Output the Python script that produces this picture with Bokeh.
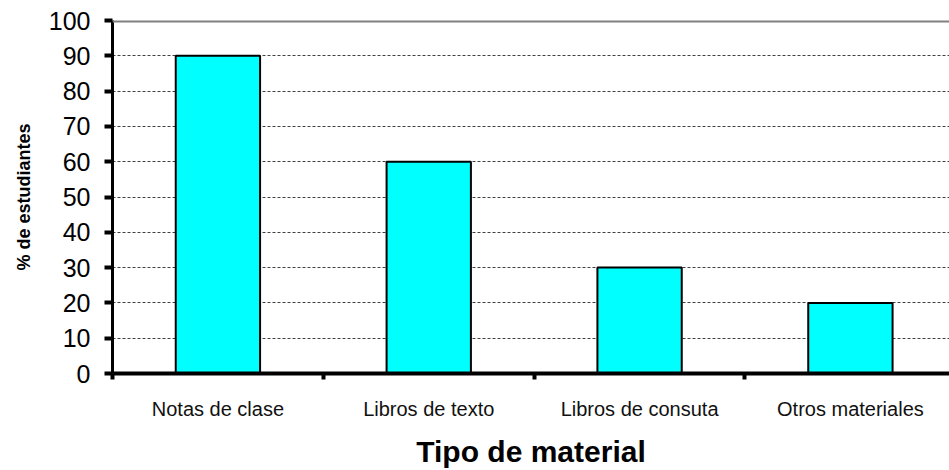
from bokeh.plotting import figure
from bokeh.models import ColumnDataSource, Range1d, FixedTicker, Span
from bokeh.embed import file_html
from bokeh.resources import INLINE

categories = ["Notas de clase", "Libros de texto", "Libros de consuta", "Otros materiales"]
values = [90, 60, 30, 20]
y_ticks = [0, 10, 20, 30, 40, 50, 60, 70, 80, 90, 100]

centers = [i + 0.5 for i in range(len(categories))]
src = ColumnDataSource(dict(x=centers, top=values))

p = figure(width=949, height=470, output_backend="svg", toolbar_location=None,
           x_range=Range1d(0, 3.97), y_range=Range1d(0, 100),
           min_border_left=112, min_border_right=0, min_border_top=20, min_border_bottom=94)

p.vbar(x="x", top="top", bottom=0, width=0.4, source=src,
       fill_color="#00FFFF", line_color="black", line_width=2)

p.outline_line_color = None
p.background_fill_color = "white"
p.border_fill_color = "white"

# top border of plot area
p.add_layout(Span(location=100, dimension="width", line_color="#808080", line_width=4))

# grid
p.xgrid.grid_line_color = None
p.ygrid.ticker = FixedTicker(ticks=y_ticks[1:-1])
p.ygrid.grid_line_color = "#404040"
p.ygrid.grid_line_dash = "3 2"
p.ygrid.grid_line_width = 1

# y axis
p.yaxis.ticker = FixedTicker(ticks=y_ticks)
p.yaxis.axis_line_color = "black"
p.yaxis.axis_line_width = 3
p.yaxis.major_tick_line_color = "black"
p.yaxis.major_tick_line_width = 4
p.yaxis.major_tick_out = 8
p.yaxis.major_tick_in = 0
p.yaxis.minor_tick_line_color = None
p.yaxis.major_label_text_font = "Liberation Sans"
p.yaxis.major_label_text_font_size = "25px"
p.yaxis.major_label_text_color = "black"
p.yaxis.major_label_standoff = 14
p.yaxis.axis_label = "% de estudiantes"
p.yaxis.axis_label_text_font = "Liberation Sans"
p.yaxis.axis_label_text_font_size = "18px"
p.yaxis.axis_label_text_font_style = "bold"
p.yaxis.axis_label_text_color = "black"
p.yaxis.axis_label_standoff = 12

# x axis: labels at centers, ticks at boundaries (minor)
p.xaxis.ticker = FixedTicker(ticks=centers, minor_ticks=list(range(len(categories) + 1)))
p.xaxis.major_label_overrides = {c: lab for c, lab in zip(centers, categories)}
p.xaxis.axis_line_color = "black"
p.xaxis.axis_line_width = 4
p.xaxis.major_tick_line_color = None
p.xaxis.major_tick_out = 0
p.xaxis.major_tick_in = 0
p.xaxis.minor_tick_line_color = "black"
p.xaxis.minor_tick_line_width = 4
p.xaxis.minor_tick_out = 6
p.xaxis.minor_tick_in = 0
p.xaxis.major_label_text_font = "Liberation Sans"
p.xaxis.major_label_text_font_size = "20px"
p.xaxis.major_label_text_color = "#111111"
p.xaxis.major_label_standoff = 18
p.xaxis.axis_label = "Tipo de material"
p.xaxis.axis_label_text_font = "Liberation Sans"
p.xaxis.axis_label_text_font_size = "30px"
p.xaxis.axis_label_text_font_style = "bold"
p.xaxis.axis_label_text_color = "black"
p.xaxis.axis_label_standoff = 12

open("out.html", "w").write(file_html(p, INLINE))
